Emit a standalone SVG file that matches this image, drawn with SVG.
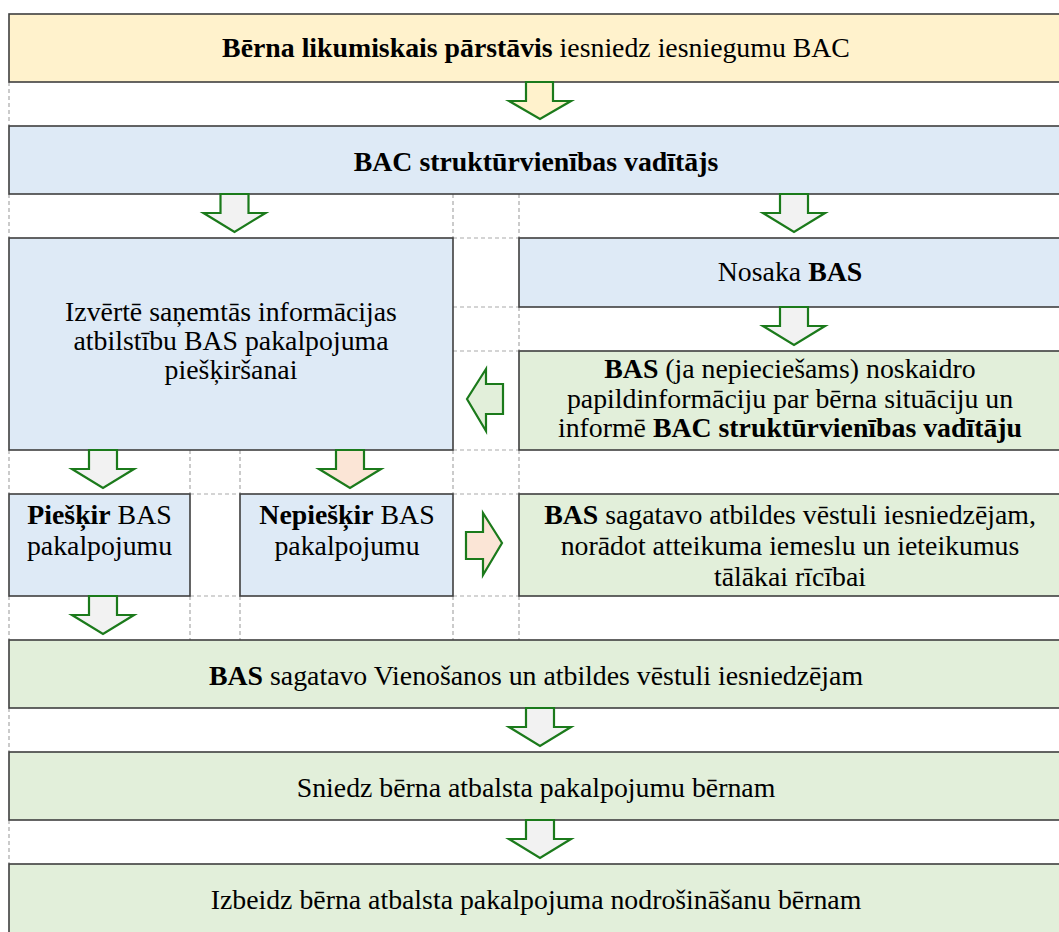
<svg xmlns="http://www.w3.org/2000/svg" width="1059" height="932" viewBox="0 0 1059 932">
<style>
.box{stroke:#3f3f3f;stroke-width:1.6}
.y{fill:#FFF2CC}.b{fill:#DEEAF6}.g{fill:#E2EFDA}
.grid{stroke:#a9a9a9;stroke-width:1.2;stroke-dasharray:4 3;fill:none}
.arr{stroke:#1b7a1b;stroke-width:2.2;stroke-linejoin:miter}
.ag{fill:#F2F2F2}.ay{fill:#FFF2CC}.ap{fill:#FBE5D6}.al{fill:#E2EFDA}
text{font-family:"Liberation Serif","Times New Roman",serif;font-size:27.8px;fill:#000;text-anchor:middle}
.bd{font-weight:bold}
</style>
<rect width="1059" height="932" fill="#fff"/>
<g id="gridlines" class="grid">
<path d="M9 82V126M9 194V238M9 450V494M9 596V640M9 708V752M9 820V864"/>
<path d="M453 194V238M453 450V494M453 596V640"/>
<path d="M519 194V238M519 307V351M519 450V494M519 596V640"/>
<path d="M190 450V494M190 596V640M240 450V494M240 596V640"/>
<path d="M453 238H519M453 307H519M453 351H519M453 450H519M453 494H519M453 596H519M190 494H240M190 596H240"/>
</g>
<g id="n1"><rect class="box y" x="9" y="14" width="1054" height="68"/>
<text x="536" y="57"><tspan class="bd">Bērna likumiskais pārstāvis</tspan> iesniedz iesniegumu BAC</text></g>
<g id="n2"><rect class="box b" x="9" y="126" width="1054" height="68"/>
<text x="536" y="171" class="bd">BAC struktūrvienības vadītājs</text></g>
<g id="n3"><rect class="box b" x="9" y="238" width="444" height="212"/>
<text x="231" y="321">Izvērtē saņemtās informācijas</text>
<text x="231" y="350">atbilstību BAS pakalpojuma</text>
<text x="231" y="379">piešķiršanai</text></g>
<g id="n4"><rect class="box b" x="519" y="238" width="544" height="69"/>
<text x="790" y="281">Nosaka <tspan class="bd">BAS</tspan></text></g>
<g id="n5"><rect class="box g" x="519" y="351" width="544" height="99"/>
<text x="790" y="378"><tspan class="bd">BAS</tspan> (ja nepieciešams) noskaidro</text>
<text x="790" y="408">papildinformāciju par bērna situāciju un</text>
<text x="790" y="437">informē <tspan class="bd">BAC struktūrvienības vadītāju</tspan></text></g>
<g id="n6"><rect class="box b" x="9" y="494" width="181" height="102"/>
<text x="99.5" y="524"><tspan class="bd">Piešķir</tspan> BAS</text>
<text x="99.5" y="555">pakalpojumu</text></g>
<g id="n7"><rect class="box b" x="240" y="494" width="213" height="102"/>
<text x="347" y="524"><tspan class="bd">Nepiešķir</tspan> BAS</text>
<text x="347" y="555">pakalpojumu</text></g>
<g id="n8"><rect class="box g" x="519" y="494" width="544" height="102"/>
<text x="790" y="524"><tspan class="bd">BAS</tspan> sagatavo atbildes vēstuli iesniedzējam,</text>
<text x="790" y="555">norādot atteikuma iemeslu un ieteikumus</text>
<text x="790" y="586">tālākai rīcībai</text></g>
<g id="n9"><rect class="box g" x="9" y="640" width="1054" height="68"/>
<text x="536" y="685"><tspan class="bd">BAS</tspan> sagatavo Vienošanos un atbildes vēstuli iesniedzējam</text></g>
<g id="n10"><rect class="box g" x="9" y="752" width="1054" height="68"/>
<text x="536" y="797">Sniedz bērna atbalsta pakalpojumu bērnam</text></g>
<g id="n11"><rect class="box g" x="9" y="864" width="1054" height="80"/>
<text x="536" y="909">Izbeidz bērna atbalsta pakalpojuma nodrošināšanu bērnam</text></g>
<g id="connectors" class="arr">
<polygon class="ay" points="526,82 553,82 553,101 571,101 540,119 509,101 526,101"/>
<polygon class="ag" points="220.5,194 248.5,194 248.5,213 265.5,213 234.5,232 203.5,213 220.5,213"/>
<polygon class="ag" points="780,194 808,194 808,213 825,213 794,232 763,213 780,213"/>
<polygon class="ag" points="780,307 808,307 808,326 825,326 794,345 763,326 780,326"/>
<polygon class="al" points="503,384 503,414 486,414 486,431 467,399 486,369 486,384"/>
<polygon class="ag" points="89,450 117,450 117,469 134,469 103,488 72,469 89,469"/>
<polygon class="ap" points="336,450 364,450 364,469 381,469 350,488 319,469 336,469"/>
<polygon class="ap" points="466,532 483,532 483,513 502,543 483,575 483,559 466,559"/>
<polygon class="ag" points="89,596 117,596 117,615 134,615 103,634 72,615 89,615"/>
<polygon class="ag" points="526,708 554,708 554,727 571,727 540,746 509,727 526,727"/>
<polygon class="ag" points="526,820 554,820 554,839 571,839 540,858 509,839 526,839"/>
</g>
</svg>
